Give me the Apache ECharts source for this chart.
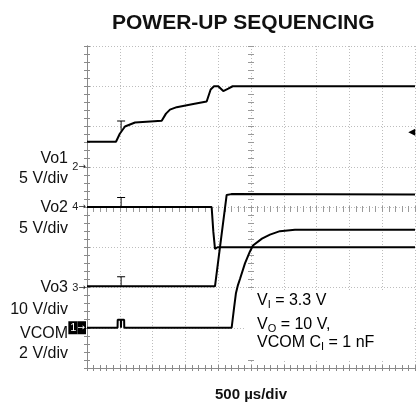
<!DOCTYPE html>
<html>
<head>
<meta charset="utf-8">
<script src="https://cdn.jsdelivr.net/npm/echarts@6/dist/echarts.min.js"></script>
<style>html,body{margin:0;padding:0;background:#fff}</style>
</head>
<body>
<div id="chart" style="width:418px;height:407px"></div>
<script>
// scope traces: [time in µs, level in V]
var vo1Trace = [[0, 3.1], [442, 3.1], [500, 4.1], [579, 5.0], [732, 5.5], [1139, 5.7], [1204, 6.6], [1265, 7.1],
    [1367, 7.4], [1620, 7.8], [1824, 8.1], [1885, 9.6], [1936, 10.0], [2001, 10.0], [2077, 9.4], [2153, 9.7],
    [2220, 10.0], [5000, 10.0]];
var vo2Trace = [[0, 0], [1900, 0], [1925, -3.0], [1951, -5.2], [1990, -5.0], [5000, -5.0]];
var vo3Trace = [[0, 0.3], [1951, 0.3], [2129, 23.0], [2200, 23.2], [5000, 23.1]];
var vcomTrace = [[0, 0], [466, 0], [468, 0.4], [516, 0.4], [518, 0], [520, 0.4], [566, 0.4], [568, 0],
    [2205, 0], [2240, 0.94], [2271, 1.73], [2301, 2.12], [2332, 2.42], [2408, 3.2], [2484, 3.79], [2530, 4.09],
    [2667, 4.43], [2789, 4.63], [2941, 4.8], [3170, 4.87], [5000, 4.87]];

var channelNames = ['Vo1', 'Vo2', 'Vo3', 'VCOM'];
var channelNums = ['2', '4', '3', '1'];
var voltsPerDiv = [5, 5, 10, 2];
var usPerDiv = 500;
var triggerUs = 520;
var triggerLevel = 4.3; // V on Vo1

// ground marker of each channel, in screen divisions
var groundDiv = [5, 4, 2, 1];

function toDiv(ch, t, v) {
    return [t / usPerDiv, groundDiv[ch] + v / voltsPerDiv[ch]];
}
function mapTrace(ch, trace) {
    return trace.map(function (p) { return toDiv(ch, p[0], p[1]); });
}

var font = '"Liberation Sans", Arial, sans-serif';
var gridCol = '#bdbdbd';
var tPath = 'path://M0,0 L8,0 M4,0 L4,9';

function tMark(ch, v) {
    return {
        symbol: tPath, symbolSize: [8, 9], symbolOffset: [0, -5],
        itemStyle: { color: 'none', borderColor: '#000', borderWidth: 1 },
        label: { show: false },
        data: [{ coord: toDiv(ch, triggerUs, v) }]
    };
}

function borderAxis(pos, extra) {
    var a = {
        type: 'value', min: 0, interval: 1, position: pos,
        axisLine: { show: true, lineStyle: { color: '#8a8a8a', width: 1 } },
        axisTick: { show: true, inside: true, length: 3, lineStyle: { color: '#8a8a8a' } },
        minorTick: { show: true, splitNumber: 5, length: 3, lineStyle: { color: '#8a8a8a' } },
        axisLabel: { show: false },
        splitLine: { show: false }
    };
    for (var k in extra) a[k] = extra[k];
    return a;
}
function centerAxis(pos, offset, inside) {
    return {
        type: 'value', min: 0, interval: 1, position: pos, offset: offset,
        axisLine: { show: false },
        axisTick: { show: true, inside: inside, length: 3, lineStyle: { color: '#9a9a9a' } },
        minorTick: { show: true, splitNumber: 5, length: 3, lineStyle: { color: '#9a9a9a' } },
        axisLabel: { show: false },
        splitLine: { show: false }
    };
}

var groundLabels = {};
for (var i = 0; i < 4; i++) groundLabels[groundDiv[i]] = i;

function sideText(y, txt) {
    return { type: 'text', x: 68, y: y, style: { text: txt, align: 'right', textAlign: 'right',
        verticalAlign: 'middle', textVerticalAlign: 'middle', font: '16px ' + font, fill: '#111' } };
}
var noteRich = {
    t: { fontSize: 16, fontFamily: font, color: '#111' },
    s: { fontSize: 11, fontFamily: font, color: '#111', padding: [8, 0, 0, 0] }
};
function noteText(y, txt) {
    return { type: 'text', x: 257, y: y, z: 10, style: { text: txt, verticalAlign: 'middle',
        textVerticalAlign: 'middle', rich: noteRich } };
}

var chart = echarts.init(document.getElementById('chart'));
var option = {
    animation: false,
    title: {
        text: 'POWER-UP SEQUENCING', left: 107, top: 8,
        textStyle: { fontSize: 21, fontWeight: 'bold', fontFamily: font, color: '#111' }
    },
    grid: { left: 87, top: 46, width: 328, height: 326 },
    xAxis: [
        borderAxis('bottom', {
            max: 10,
            splitLine: { show: true, lineStyle: { color: gridCol, type: [1, 2] } },
            name: usPerDiv + ' µs/div', nameLocation: 'middle', nameGap: 19,
            nameTextStyle: { fontSize: 15, fontWeight: 'bold', fontFamily: font, color: '#111' }
        }),
        borderAxis('top', { max: 10 }),
        Object.assign(centerAxis('bottom', -163, true), { max: 10 }),
        Object.assign(centerAxis('bottom', -163, false), { max: 10 })
    ],
    yAxis: [
        borderAxis('left', {
            max: 8,
            splitLine: { show: true, lineStyle: { color: gridCol, type: [1, 2] } },
            axisLabel: {
                show: true, margin: 1,
                formatter: function (val) {
                    var ch = groundLabels[val];
                    if (ch === undefined) return '';
                    if (channelNums[ch] === '1') return '{b|1}{w|→}';
                    return '{n|' + channelNums[ch] + '}{a|→}';
                },
                rich: {
                    n: { fontSize: 11, fontFamily: font, color: '#222' },
                    a: { fontSize: 9, fontFamily: '"DejaVu Sans"', color: '#222' },
                    b: { fontSize: 11, fontFamily: font, color: '#fff', backgroundColor: '#000', padding: [1, 1, 1, 2] },
                    w: { fontSize: 9, fontFamily: '"DejaVu Sans"', color: '#fff', backgroundColor: '#000', padding: [2, 1, 2, 0] }
                }
            }
        }),
        borderAxis('right', { max: 8 }),
        Object.assign(centerAxis('left', -164, true), { max: 8 }),
        Object.assign(centerAxis('left', -164, false), { max: 8 })
    ],
    series: [
        {
            name: channelNames[0], type: 'line', showSymbol: false, data: mapTrace(0, vo1Trace),
            lineStyle: { color: '#000', width: 2 },
            markPoint: {
                silent: true,
                data: [
                    { coord: toDiv(0, triggerUs, 4.5), symbol: tPath, symbolSize: [8, 9], symbolOffset: [0, -5],
                      itemStyle: { color: 'none', borderColor: '#000', borderWidth: 1 } },
                    { coord: toDiv(0, 4950, triggerLevel), symbol: 'triangle', symbolRotate: 90, symbolSize: 7,
                      itemStyle: { color: '#000' } }
                ],
                label: { show: false }
            }
        },
        {
            name: channelNames[1], type: 'line', showSymbol: false, data: mapTrace(1, vo2Trace),
            lineStyle: { color: '#000', width: 2 }, markPoint: tMark(1, 0)
        },
        {
            name: channelNames[2], type: 'line', showSymbol: false, data: mapTrace(2, vo3Trace),
            lineStyle: { color: '#000', width: 2 }, markPoint: tMark(2, 0.3)
        },
        {
            name: channelNames[3], type: 'line', showSymbol: false, data: mapTrace(3, vcomTrace),
            lineStyle: { color: '#000', width: 2 }
        }
    ],
    graphic: [
        { type: 'rect', shape: { x: 246, y: 292, width: 168, height: 68 }, style: { fill: '#fff' }, z: 1 },
        sideText(159, channelNames[0]),
        sideText(179, voltsPerDiv[0] + ' V/div'),
        sideText(208, channelNames[1]),
        sideText(229, voltsPerDiv[1] + ' V/div'),
        sideText(288, channelNames[2]),
        sideText(310, voltsPerDiv[2] + ' V/div'),
        sideText(334, channelNames[3]),
        sideText(354, voltsPerDiv[3] + ' V/div'),
        noteText(301, '{t|V}{s|I}{t| = 3.3 V}'),
        noteText(325, '{t|V}{s|O}{t| = 10 V,}'),
        noteText(343, '{t|VCOM C}{s|I}{t| = 1 nF}')
    ]
};
chart.setOption(option);
</script>
</body>
</html>
